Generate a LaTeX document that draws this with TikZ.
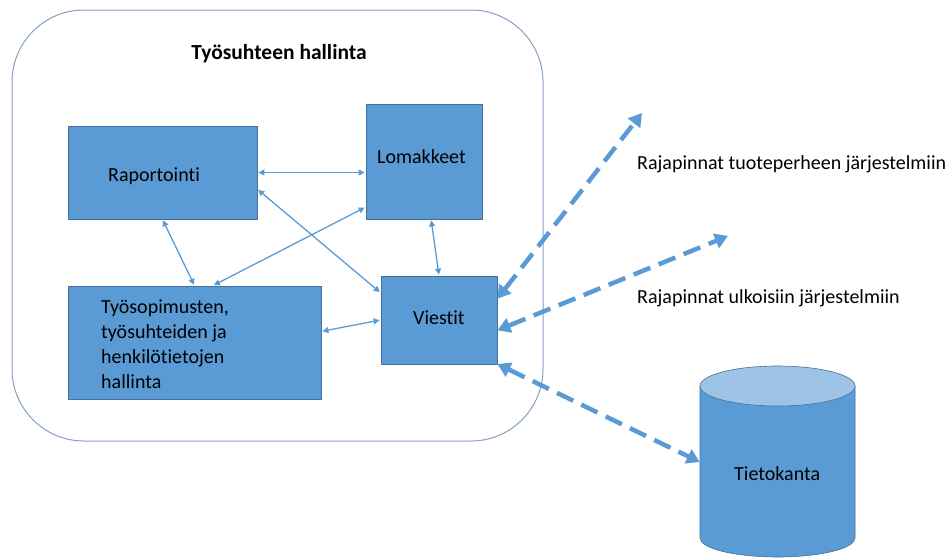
\documentclass[tikz,border=0pt]{standalone}
\usepackage{fontspec}
\setmainfont{Carlito}[Ligatures=NoCommon]
\usetikzlibrary{arrows.meta}

\definecolor{boxfill}{RGB}{91,155,213}
\definecolor{boxline}{RGB}{65,113,156}
\definecolor{frameline}{RGB}{132,160,196}
\definecolor{diskend}{RGB}{157,195,230}

\tikzset{
  x=1pt, y=-1pt,
  module/.style={draw=boxline, fill=boxfill, line width=0.8pt, inner sep=0pt},
  txt/.style={inner sep=0pt, font=\fontsize{20}{25}\selectfont, text=black},
  link/.style={draw=boxfill, line width=1.3pt,
    {Triangle[length=6pt,width=6pt]}-{Triangle[length=6pt,width=6pt]}, shorten <=1pt, shorten >=1pt},
  iface/.style={draw=boxfill, line width=4.5pt, dash pattern=on 18pt off 9pt,
    {Triangle[length=13pt,width=15pt]}-{Triangle[length=13pt,width=15pt]}},
}

\begin{document}
\begin{tikzpicture}
\useasboundingbox (0,0) rectangle (945,557);

% outer frame
\draw[frameline, line width=1pt, rounded corners=72pt] (12,10) rectangle (543,441);
\node[txt, font=\fontsize{21.5}{25}\selectfont\bfseries, anchor=base] (title) at (279,59) {Työsuhteen hallinta};

% modules
\node[module, minimum width=189pt, minimum height=93pt] (rp) at (162.5,172.5) {};
\node[module, minimum width=116pt, minimum height=115pt] (lo) at (424,161.5) {};
\node[module, minimum width=253pt, minimum height=113pt] (ts) at (194.5,342.5) {};
\node[module, minimum width=116pt, minimum height=88pt] (vi) at (439,320) {};

\node[txt, anchor=base west] (rpt) at (108,181) {Raportointi};
\node[txt, anchor=base west] (lot) at (377,163) {Lomakkeet};
\node[txt, anchor=north west, align=left] (tst) at (101,300)
  {Työsopimusten,\\työsuhteiden ja\\henkilötietojen\\hallinta};
\node[txt, anchor=base west] (vit) at (413,324) {Viestit};

% database cylinder
\path[fill=boxfill, draw=boxline, line width=0.6pt]
  (700,386) -- (700,538) arc[start angle=180, end angle=360, x radius=77.5pt, y radius=19pt]
  -- (855,386) -- cycle;
\path[fill=diskend, draw=boxline, line width=0.6pt]
  (777.5,386) ellipse[x radius=77.5pt, y radius=20pt];
\node[inner sep=0pt, minimum width=155pt, minimum height=152pt] (db) at (777.5,462) {};
\node[txt, anchor=base west] (dbt) at (734,480) {Tietokanta};

% internal links
\draw[link] (rp.east) -- (rp.east -| lo.west);
\draw[link] (rp.-10) -- (vi.155);
\draw[link] (lo.218) -- (ts.72);
\draw[link] (rp.south) -- (ts.north);
\draw[link] (lo.-83) -- (vi.north);
\draw[link] (ts.5) -- (vi.west);

% external interfaces
\coordinate (ext1) at (642,113);
\coordinate (ext2) at (728,236);
\draw[iface] (vi.20) -- (ext1);
\draw[iface] (vi.-10) -- (ext2);
\draw[iface] (vi.-37) -- (db.west);

\node[txt, anchor=base west] (l1) at (637,169) {Rajapinnat tuoteperheen järjestelmiin};
\node[txt, anchor=base west] (l2) at (637,303) {Rajapinnat ulkoisiin järjestelmiin};
\end{tikzpicture}
\end{document}
